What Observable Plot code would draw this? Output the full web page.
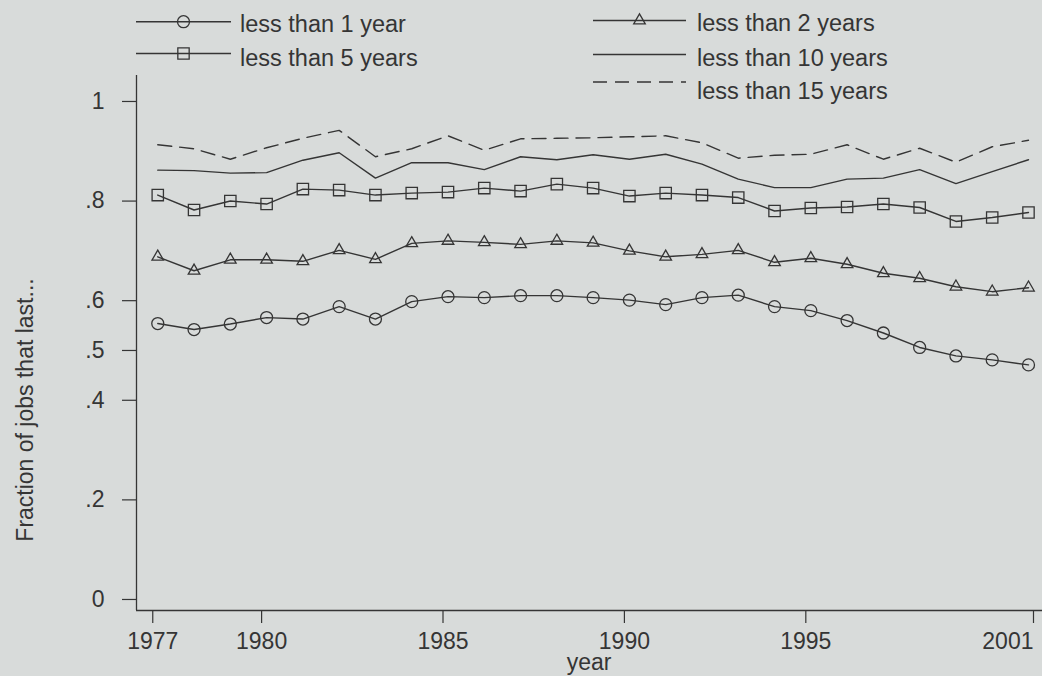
<!DOCTYPE html>
<html><head><meta charset="utf-8">
<script src="https://cdn.jsdelivr.net/npm/d3@7"></script>
<script src="https://cdn.jsdelivr.net/npm/@observablehq/plot@0.6"></script>
<style>
html,body{margin:0;padding:0;background:#d8dbda;}
#wrap{position:relative;width:1042px;height:676px;overflow:hidden;font-family:"Liberation Sans",Arial,Helvetica,sans-serif;color:#333;}
#chart{position:absolute;left:0;top:0;}
#overlay{position:absolute;left:0;top:0;}
</style></head><body>
<div id="wrap"><div id="chart"></div><svg id="overlay" width="1042" height="676"></svg></div>
<script>
// ---- data ----
const years = [1977,1978,1979,1980,1981,1982,1983,1984,1985,1986,1987,1988,1989,1990,1991,1992,1993,1994,1995,1996,1997,1998,1999,2000,2001];
const lessThan1 = [0.538,0.526,0.537,0.550,0.547,0.572,0.547,0.582,0.592,0.590,0.594,0.594,0.590,0.585,0.576,0.590,0.595,0.572,0.564,0.544,0.519,0.490,0.473,0.465,0.455];
const lessThan2 = [0.672,0.644,0.666,0.666,0.663,0.685,0.667,0.699,0.704,0.701,0.697,0.704,0.700,0.684,0.672,0.677,0.685,0.661,0.669,0.657,0.639,0.629,0.612,0.602,0.610];
const lessThan5 = [0.796,0.766,0.784,0.778,0.808,0.806,0.796,0.800,0.802,0.810,0.804,0.818,0.810,0.794,0.800,0.796,0.791,0.764,0.770,0.772,0.778,0.771,0.743,0.751,0.761];
const lessThan10 = [0.846,0.845,0.840,0.841,0.866,0.881,0.830,0.861,0.861,0.847,0.873,0.867,0.877,0.868,0.878,0.858,0.828,0.811,0.811,0.828,0.830,0.847,0.819,0.843,0.867];
const lessThan15 = [0.897,0.889,0.868,0.891,0.910,0.926,0.873,0.889,0.915,0.886,0.909,0.910,0.911,0.913,0.915,0.901,0.870,0.876,0.878,0.897,0.868,0.890,0.862,0.893,0.906];
const seriesNames = ["less than 1 year","less than 2 years","less than 5 years","less than 10 years","less than 15 years"];
const xTicks = [1977,1980,1985,1990,1995,2001];
const yTicks = [0,0.2,0.4,0.5,0.6,0.8,1];
const yTickLabels = ["0",".2",".4",".5",".6",".8","1"];
const xTitle = "year";
const yTitle = "Fraction of jobs that last...";

// ---- build ----
const ink = "#353535";
const font = '"Liberation Sans", Arial, Helvetica, sans-serif';
const xDom = [1976.414, 2001.386];
const yDom = [-0.0382, 1.0361];
const rows = vals => years.map((y, i) => ({year: y, value: vals[i]}));
const s1 = rows(lessThan1), s2 = rows(lessThan2), s5 = rows(lessThan5), s10 = rows(lessThan10), s15 = rows(lessThan15);
const lineOpts = {x: "year", y: "value", stroke: ink, strokeWidth: 1.4};
const dotOpts = {x: "year", y: "value", stroke: ink, fill: "none", strokeWidth: 1.3};
const markerR = {circle: 6, square: 6.4, triangle: 4.3};

const chart = Plot.plot({
  width: 1042, height: 676,
  marginLeft: 136, marginRight: 0, marginTop: 75, marginBottom: 66,
  style: {background: "transparent", fontFamily: font, fontSize: "23px", color: ink, overflow: "visible"},
  x: {domain: xDom},
  y: {domain: yDom},
  marks: [
    Plot.ruleX([xDom[0]], {stroke: ink, strokeWidth: 1.3}),
    Plot.ruleY([yDom[0]], {stroke: ink, strokeWidth: 1.3}),
    Plot.axisX({ticks: xTicks.slice(0, -1), tickFormat: d => String(d), tickSize: 13, tickPadding: 9, dx: -5, fontSize: 23, label: null, strokeWidth: 1.2}),
    Plot.axisX({ticks: xTicks.slice(-1), tickFormat: d => String(d), tickSize: 13, tickPadding: 9, dx: 5, textAnchor: "end", fontSize: 23, label: null, strokeWidth: 1.2}),
    Plot.axisY({ticks: yTicks, tickFormat: d => yTickLabels[yTicks.indexOf(d)], tickSize: 14, tickPadding: 18, dy: 8, fontSize: 23, label: null, strokeWidth: 1.2}),
    Plot.line(s15, {...lineOpts, strokeDasharray: "14,8"}),
    Plot.line(s10, lineOpts),
    Plot.line(s5, lineOpts),
    Plot.line(s2, lineOpts),
    Plot.line(s1, lineOpts),
    Plot.dot(s5, {...dotOpts, symbol: "square", r: markerR.square}),
    Plot.dot(s2, {...dotOpts, symbol: "triangle", r: markerR.triangle}),
    Plot.dot(s1, {...dotOpts, symbol: "circle", r: markerR.circle})
  ]
});
document.getElementById("chart").appendChild(chart);

// ---- legend and titles (overlay) ----
const ov = d3.select("#overlay");
const legend = [
  {name: seriesNames[0], symbol: d3.symbolCircle, r: markerR.circle, x0: 136, x1: 231, tx: 240, base: 32, ly: 21.7, dash: null},
  {name: seriesNames[2], symbol: d3.symbolSquare, r: markerR.square, x0: 136, x1: 231, tx: 240, base: 65.7, ly: 53.5, dash: null},
  {name: seriesNames[1], symbol: d3.symbolTriangle, r: markerR.triangle, x0: 593, x1: 686, tx: 697, base: 30.7, ly: 20.5, dash: null},
  {name: seriesNames[3], symbol: null, x0: 593, x1: 686, tx: 697, base: 66.3, ly: 54.5, dash: null},
  {name: seriesNames[4], symbol: null, x0: 593, x1: 686, tx: 697, base: 99, ly: 82, dash: "14,8"}
];
legend.forEach(e => {
  const g = ov.append("g");
  g.append("line").attr("x1", e.x0).attr("x2", e.x1).attr("y1", e.ly).attr("y2", e.ly)
    .attr("stroke", ink).attr("stroke-width", 1.4).attr("stroke-dasharray", e.dash);
  if (e.symbol) {
    g.append("path").attr("d", d3.symbol(e.symbol, Math.PI * e.r * e.r)())
      .attr("transform", `translate(${(e.x0 + e.x1) / 2},${e.ly})`)
      .attr("fill", "none").attr("stroke", ink).attr("stroke-width", 1.3);
  }
  g.append("text").attr("x", e.tx).attr("y", e.base).text(e.name)
    .attr("fill", ink).attr("font-family", font).attr("font-size", 23.5);
});
ov.append("text").attr("x", 589).attr("y", 670).attr("text-anchor", "middle").text(xTitle)
  .attr("fill", ink).attr("font-family", font).attr("font-size", 23);
ov.append("text").attr("transform", "translate(33,410) rotate(-90)").attr("text-anchor", "middle").text(yTitle)
  .attr("fill", ink).attr("font-family", font).attr("font-size", 23);
</script>
</body></html>
